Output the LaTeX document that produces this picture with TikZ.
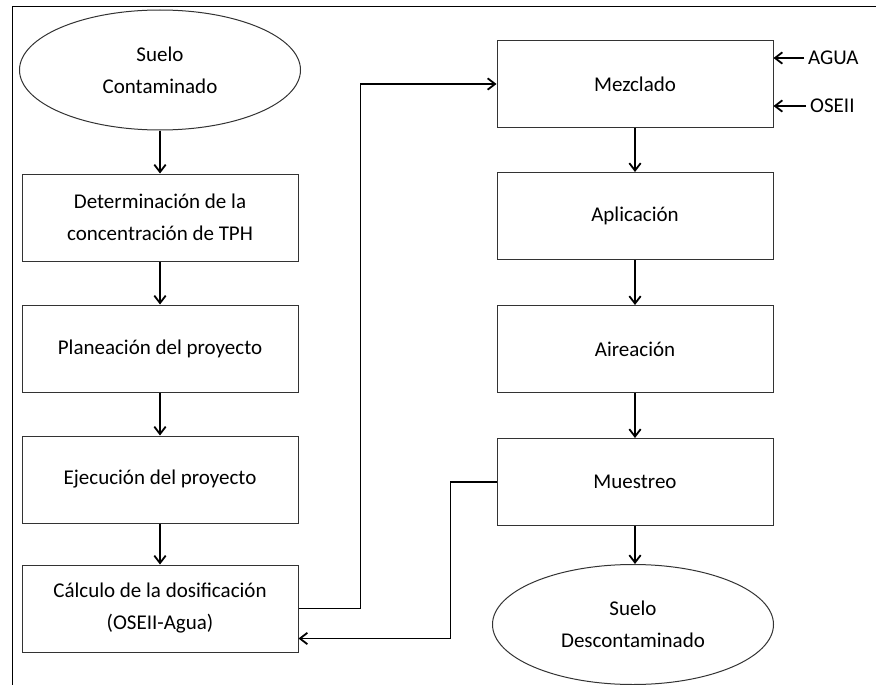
\documentclass[tikz,border=0pt]{standalone}
\usepackage{fontspec}
\setmainfont{Carlito}
\usepackage{tikz}
\usetikzlibrary{positioning,arrows.meta,calc,shapes.geometric}

\begin{document}
\begin{tikzpicture}[
  x=1pt, y=-1pt,
  font=\fontsize{21}{32}\selectfont,
  node distance=43pt,
  proc/.style={draw=black!80, line width=1pt, align=center,
    minimum width=276pt, minimum height=87pt, inner sep=2pt},
  ext/.style={draw=black!80, line width=1pt, ellipse, align=center,
    minimum width=281pt, minimum height=120pt, inner sep=0pt},
  lbl/.style={inner sep=4pt},
  arr/.style={-{Straight Barb[length=2.6mm, width=4mm]}, line width=1.8pt, black}
]
\useasboundingbox (0,0) rectangle (876,685);
% marco
\draw[line width=1pt] (876,7) -- (12,7) -- (12,685);

% columna izquierda
\node[ext] (ini) at (160,70) {Suelo\\Contaminado};
\node[proc, below=of ini] (tph) {Determinación de la\\concentración de TPH};
\node[proc, below=of tph] (plan) {Planeación del proyecto};
\node[proc, below=of plan] (ejec) {Ejecución del proyecto};
\node[proc, below=41pt of ejec] (calc) {Cálculo de la dosificación\\(OSEII-Agua)};

% columna derecha
\node[proc] (mezcla) at (635,84) {Mezclado};
\node[proc, below=44pt of mezcla] (aplic) {Aplicación};
\node[proc, below=45pt of aplic] (aire) {Aireación};
\node[proc, below=45pt of aire] (muest) {Muestreo};
\node[ext, below=38pt of muest, xshift=-2pt] (fin) {Suelo\\Descontaminado};

% entradas
\node[lbl, anchor=west] (agua) at (804,58) {AGUA};
\node[lbl, anchor=west] (oseii) at (806,106) {OSEII};

\draw[arr] (ini) -- (tph);
\draw[arr] (tph) -- (plan);
\draw[arr] (plan) -- (ejec);
\draw[arr] (ejec) -- (calc);
\draw[arr] (calc.east) -- ++(62,0) |- (mezcla.west);
\draw[arr] (mezcla) -- (aplic);
\draw[arr] (aplic) -- (aire);
\draw[arr] (aire) -- (muest);
\draw[arr] (muest.south) -- (fin.north -| muest.south);
\draw[arr] (muest.west) -- ++(-46,0) |- ([yshift=-30pt]calc.east);
\draw[arr] (agua.west) -- (agua.west -| mezcla.east);
\draw[arr] (oseii.west) -- (oseii.west -| mezcla.east);
\end{tikzpicture}
\end{document}
